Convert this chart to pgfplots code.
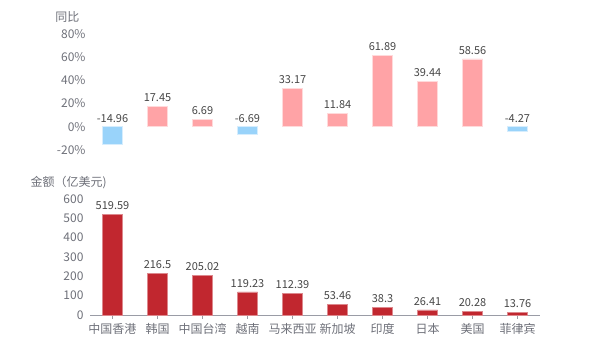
\documentclass[border=0pt]{standalone}
\usepackage{pgfplots}
\pgfplotsset{compat=1.18}
\usepackage{fontspec}
\setmainfont{Noto Sans CJK SC}
\definecolor{tickgray}{HTML}{6E7079}
\definecolor{labdark}{HTML}{464646}
\definecolor{posbar}{HTML}{FFA3A6}
\definecolor{negbar}{HTML}{99D3FA}
\definecolor{redbar}{HTML}{C1272F}
\definecolor{axisgray}{HTML}{9A9CA6}
\begin{document}
\begin{tikzpicture}[x=1pt,y=1pt]
\path[use as bounding box] (0,0) rectangle (600,350);
% top axis: year-on-year
\begin{axis}[
  at={(90pt,200pt)}, anchor=south west,
  scale only axis, width=450pt, height=116pt,
  xmin=-0.5, xmax=9.5, ymin=-20, ymax=80,
  axis line style={draw=none},
  ytick={-20,0,20,40,60,80},
  yticklabel={\pgfmathprintnumber{\tick}\%},
  yticklabel style={font=\fontsize{12}{12}\selectfont, text=tickgray, anchor=east, xshift=-1pt},
  /pgf/number format/assume math mode=true,
  xtick=\empty,
  ytick style={draw=none},
  ybar, bar width=20pt, bar shift=0pt,
  clip=false,
]
\addplot[fill=posbar, draw=posbar!40!white, line width=0.6pt] coordinates {(1,17.45) (2,6.69) (4,33.17) (5,11.84) (6,61.89) (7,39.44) (8,58.56)};
\addplot[fill=negbar, draw=negbar!40!white, line width=0.6pt] coordinates {(0,-14.96) (3,-6.69) (9,-4.27)};
\addplot[only marks, mark=none, nodes near coords, point meta=explicit symbolic,
  every node near coord/.append style={font=\fontsize{11}{11}\selectfont, text=labdark, anchor=south, yshift=1pt}]
  coordinates {(0,0)[-14.96] (1,17.45)[17.45] (2,6.69)[6.69] (3,0)[-6.69] (4,33.17)[33.17] (5,11.84)[11.84] (6,61.89)[61.89] (7,39.44)[39.44] (8,58.56)[58.56] (9,0)[-4.27]};
\end{axis}
\node[anchor=east, font=\fontsize{12}{12}\selectfont, text=tickgray] at (83,333) {同比};
% bottom axis: amount
\begin{axis}[
  at={(90pt,35pt)}, anchor=south west,
  scale only axis, width=450pt, height=116pt,
  xmin=-0.5, xmax=9.5, ymin=0, ymax=600,
  axis x line=bottom, axis y line=left,
  x axis line style={draw=axisgray, line width=0.8pt, -},
  y axis line style={draw=none, -},
  ytick={0,100,200,300,400,500,600},
  yticklabel style={font=\fontsize{12}{12}\selectfont, text=tickgray, anchor=east, xshift=-1pt},
  /pgf/number format/assume math mode=true,
  xtick={0,...,9},
  xticklabels={中国香港,韩国,中国台湾,越南,马来西亚,新加坡,印度,日本,美国,菲律宾},
  xticklabel style={font=\fontsize{12}{12}\selectfont, text=tickgray, yshift=-1pt},
  major tick length=4pt,
  xtick align=outside,
  xtick style={draw=axisgray, line width=0.8pt},
  ytick style={draw=none},
  ybar, bar width=20pt, bar shift=0pt,
  clip=false,
  nodes near coords, point meta=explicit symbolic,
  every node near coord/.append style={font=\fontsize{11}{11}\selectfont, text=labdark, anchor=south, yshift=1pt},
]
\addplot[fill=redbar, draw=redbar!55!white, line width=0.6pt] coordinates {(0,519.59)[519.59] (1,216.5)[216.5] (2,205.02)[205.02] (3,119.23)[119.23] (4,112.39)[112.39] (5,53.46)[53.46] (6,38.3)[38.3] (7,26.41)[26.41] (8,20.28)[20.28] (9,13.76)[13.76]};
\end{axis}
\node[anchor=west, font=\fontsize{12}{12}\selectfont, text=tickgray] at (27,167) {金额（亿美元)};
\end{tikzpicture}
\end{document}
